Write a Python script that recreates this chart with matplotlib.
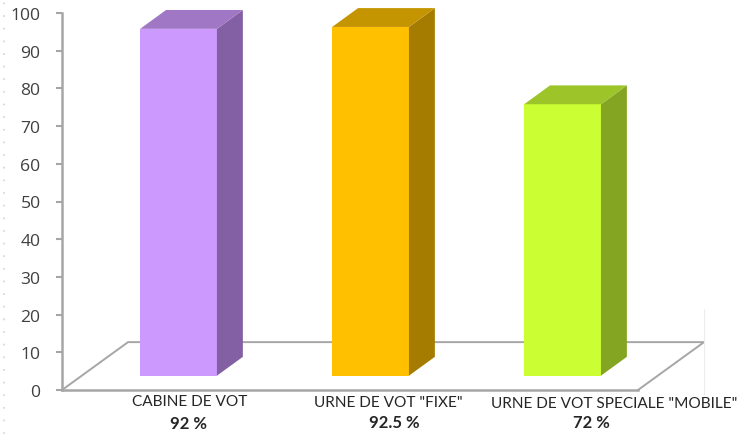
import matplotlib
matplotlib.use("Agg")
import matplotlib.pyplot as plt
from matplotlib.lines import Line2D
from matplotlib.patches import Polygon

W, H = 742, 435

categories = ['CABINE DE VOT', 'URNE DE VOT "FIXE"', 'URNE DE VOT SPECIALE "MOBILE"']
percent_labels = ['92 %', '92.5 %', '72 %']
values = [92, 92.5, 72]
front_colors = ['#CC99FF', '#FFC000', '#CCFF33']
side_colors = ['#8260A3', '#A67C00', '#84A521']
top_colors = ['#A077C4', '#C49500', '#9DC428']
yticks = list(range(0, 101, 10))

# 3d look: floor depth, bar offset on the floor and bar depth, in data units
floor_dx, floor_dy = 0.344, 12.7
base_dx, base_dy = 0.107, 3.8
bar_dx, bar_dy = 0.135, 5.0
bar_width = 0.40

line_color = '#A6A6A6'
text_color = '#404040'

fig = plt.figure(figsize=(W / 100, H / 100), dpi=100)
ax = fig.add_axes([62 / W, (H - 391) / H, (638 - 62) / W, (391 - 14) / H])
ax.set_xlim(-0.5, 2.5)
ax.set_ylim(0, 100)

# floor of the chart
floor_x = [-0.5, -0.5 + floor_dx, 2.5 + floor_dx, 2.5]
floor_y = [0, floor_dy, floor_dy, 0]
ax.plot(floor_x, floor_y, color=line_color, lw=1.4, clip_on=False, zorder=1,
        solid_joinstyle='miter')

# bars, each one is front + side + top
for i, v in enumerate(values):
    x0 = i - bar_width / 2 + base_dx
    x1 = x0 + bar_width
    y0 = base_dy
    y1 = base_dy + v
    ax.add_patch(Polygon([(x0, y0), (x1, y0), (x1, y1), (x0, y1)],
                         fc=front_colors[i], ec='none', clip_on=False, zorder=3))
    ax.add_patch(Polygon([(x1, y0), (x1 + bar_dx, y0 + bar_dy), (x1 + bar_dx, y1 + bar_dy), (x1, y1)],
                         fc=side_colors[i], ec='none', clip_on=False, zorder=3))
    ax.add_patch(Polygon([(x0, y1), (x1, y1), (x1 + bar_dx, y1 + bar_dy), (x0 + bar_dx, y1 + bar_dy)],
                         fc=top_colors[i], ec='none', clip_on=False, zorder=3))

# axes
for side in ['top', 'right']:
    ax.spines[side].set_visible(False)
for side in ['left', 'bottom']:
    ax.spines[side].set_color(line_color)
    ax.spines[side].set_linewidth(1.8)
ax.set_xticks([])
ax.set_yticks(yticks)
ax.tick_params(axis='y', length=4.5, width=1.5, color=line_color, pad=11,
               labelsize=12.6, labelcolor=text_color)
for lab in ax.get_yticklabels():
    lab.set_fontfamily('Open Sans')

# category labels, positions nudged by hand like in the picture
label_x = [0.167, 1.198, 2.375]
label_y = [-2.9, -3.2, -3.45]
pct_x = [0.161, 1.229, 2.26]
pct_y = [-8.75, -8.5, -8.5]
for i in range(3):
    ax.text(label_x[i], label_y[i], categories[i], ha='center', va='center',
            fontsize=11.1, family='Lato', color='#262626', clip_on=False)
    ax.text(pct_x[i], pct_y[i], percent_labels[i], ha='center', va='center',
            fontsize=12, family='Lato', fontweight='bold', color='#262626', clip_on=False)

# dotted slide border and faint line at the right
fig.add_artist(Line2D([4 / W, 4 / W], [0, 1], color='#D9D9D9', lw=1.3, ls=(0, (1, 6))))
fig.add_artist(Line2D([0, 1], [0.999, 0.999], color='#D9D9D9', lw=1.3, ls=(0, (1, 12))))
fig.add_artist(Line2D([704 / W, 704 / W], [(H - 395) / H, (H - 310) / H], color='#EDEDED', lw=0.8))

fig.savefig('out.png', dpi=100)
